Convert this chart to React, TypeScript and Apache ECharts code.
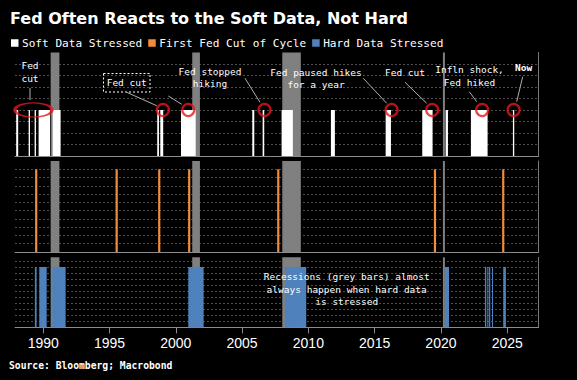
import React, { useEffect, useRef } from "react";
import * as echarts from "echarts";

// ---- data ----
const X_MIN = 1987.87;
const X_MAX = 2027.36;
const yearTicks = [1990, 1995, 2000, 2005, 2010, 2015, 2020, 2025];

const recessions: [number, number][] = [
  [1990.56, 1991.22],
  [2001.24, 2001.82],
  [2008.03, 2009.43],
  [2020.15, 2020.3],
];

const softStressed: [number, number][] = [
  [1987.96, 1988.11],
  [1988.9, 1989.0],
  [1989.35, 1989.45],
  [1989.65, 1990.51],
  [1990.71, 1991.31],
  [1998.6, 1998.73],
  [1998.83, 1999.05],
  [2000.39, 2001.5],
  [2005.77, 2005.92],
  [2006.55, 2006.67],
  [2007.98, 2008.83],
  [2011.7, 2012.0],
  [2015.83, 2016.23],
  [2018.59, 2019.37],
  [2020.35, 2020.53],
  [2022.26, 2023.52],
  [2025.43, 2025.53],
];

const firstFedCuts: number[] = [1989.47, 1995.54, 1998.75, 2001.01, 2007.73, 2019.55, 2024.7];

const hardStressed: [number, number][] = [
  [1989.37, 1989.5],
  [1989.7, 1990.26],
  [1990.68, 1991.69],
  [2000.94, 2002.1],
  [2008.23, 2009.84],
  [2020.3, 2020.61],
  [2023.32, 2023.42],
  [2023.5, 2023.58],
  [2023.63, 2023.72],
  [2023.85, 2023.93],
  [2024.7, 2024.9],
];

const softLevel = 4;
const cutLevel = 10;
const hardLevel = 10;
const panelMax = [9, 11, 11.6];

const circledDates: number[] = [1999.03, 2000.94, 2006.69, 2016.28, 2019.34, 2023.11, 2025.48];
const ellipseDates: number[] = [1989.26];

// ---- styles ----
const MONO = "'DejaVu Sans Mono', 'Liberation Mono', monospace";
const SANS = "'Liberation Sans', Arial, sans-serif";
const GREY = "#808080";
const WHITE = "#ffffff";
const ORANGE = "#f08c3c";
const BLUE = "#4f81bd";
const RED = "#e8161b";
const LEADER = "#b0b0b0";

const rangeRender = (color: string) => (params: any, api: any) => {
  const p0 = api.coord([api.value(0), api.value(2)]);
  const p1 = api.coord([api.value(1), 0]);
  return {
    type: "rect",
    shape: { x: p0[0], y: p0[1], width: Math.max(p1[0] - p0[0], 1), height: p1[1] - p0[1] },
    style: { fill: color },
  };
};

const lineRender = (color: string) => (params: any, api: any) => {
  const p0 = api.coord([api.value(0), api.value(1)]);
  const p1 = api.coord([api.value(0), 0]);
  return {
    type: "rect",
    shape: { x: p0[0] - 1.1, y: p0[1], width: 2.2, height: p1[1] - p0[1] },
    style: { fill: color },
  };
};

export default function App() {
  const ref = useRef<HTMLDivElement>(null);
  useEffect(() => {
    if (!ref.current) return;
    const chart = echarts.init(ref.current, null, { renderer: "svg" });

    const grids = [
      { left: 15, right: 38.5, top: 52.5, height: 103.5 },
      { left: 15, right: 38.5, top: 161, height: 91 },
      { left: 15, right: 38.5, top: 257.3, height: 70 },
    ];

    const xAxes = grids.map((g, i) => ({
      type: "value",
      gridIndex: i,
      min: X_MIN,
      max: X_MAX,
      splitLine: { show: false },
      axisLine: { show: true, lineStyle: { color: "#8c8c8c", width: 1 } },
      axisTick: {
        show: i === 2,
        customValues: yearTicks,
        length: 6,
        lineStyle: { color: "#8c8c8c" },
      },
      axisLabel: {
        show: i === 2,
        customValues: yearTicks,
        color: WHITE,
        fontSize: 14,
        fontFamily: SANS,
        margin: 9,
        formatter: (v: number) => String(Math.round(v)),
      },
    }));

    const yAxes = grids.map((g, i) => ({
      type: "value",
      gridIndex: i,
      position: "right",
      min: 0,
      max: panelMax[i],
      interval: 1,
      axisLine: { show: true, lineStyle: { color: "#7a7a7a" } },
      axisTick: { show: false },
      axisLabel: { show: false },
      splitLine: {
        show: true,
        showMaxLine: false,
        showMinLine: false,
        lineStyle: { color: "#4e4e4e", type: [2, 2], width: 1 },
      },
    }));

    const greySeries = [0, 1, 2].map((i) => ({
      type: "custom",
      name: "Recession",
      xAxisIndex: i,
      yAxisIndex: i,
      z: 1,
      encode: { x: [0, 1], y: 2 },
      renderItem: rangeRender(GREY),
      data: recessions.map(([a, b]) => [a, b, panelMax[i]]),
    }));

    const annText = (text: string, x: number, y: number, extra: any = {}) => ({
      type: "text",
      x,
      y,
      z: 50,
      style: {
        text,
        fill: WHITE,
        font: `9.5px ${MONO}`,
        align: "center",
        verticalAlign: "middle",
        lineHeight: 12.2,
        ...extra,
      },
    });
    const leader = (x1: number, y1: number, x2: number, y2: number) => ({
      type: "line",
      z: 50,
      shape: { x1, y1, x2, y2 },
      style: { stroke: LEADER, lineWidth: 1 },
    });

    chart.setOption({
      animation: false,
      backgroundColor: "#000000",
      title: {
        text: "Fed Often Reacts to the Soft Data, Not Hard",
        left: 5,
        top: 5,
        textStyle: { color: WHITE, fontSize: 16, fontWeight: "bold", fontFamily: "'DejaVu Sans', sans-serif" },
      },
      legend: {
        data: ["Soft Data Stressed", "First Fed Cut of Cycle", "Hard Data Stressed"],
        left: 6,
        top: 32.5,
        icon: "rect",
        itemWidth: 7.5,
        itemHeight: 7.5,
        itemGap: 6,
        selectedMode: false,
        textStyle: { color: WHITE, fontSize: 11.1, fontFamily: MONO, padding: [0, 0, 0, -1.5] },
      },
      grid: grids,
      xAxis: xAxes,
      yAxis: yAxes,
      series: [
        ...greySeries,
        {
          type: "custom",
          name: "Soft Data Stressed",
          xAxisIndex: 0,
          yAxisIndex: 0,
          z: 3,
          itemStyle: { color: WHITE },
          encode: { x: [0, 1], y: 2 },
          renderItem: rangeRender(WHITE),
          data: softStressed.map(([a, b]) => [a, b, softLevel]),
        },
        {
          type: "custom",
          name: "First Fed Cut of Cycle",
          xAxisIndex: 1,
          yAxisIndex: 1,
          z: 3,
          itemStyle: { color: ORANGE },
          encode: { x: 0, y: 1 },
          renderItem: lineRender(ORANGE),
          data: firstFedCuts.map((d) => [d, cutLevel]),
        },
        {
          type: "custom",
          name: "Hard Data Stressed",
          xAxisIndex: 2,
          yAxisIndex: 2,
          z: 3,
          itemStyle: { color: BLUE },
          encode: { x: [0, 1], y: 2 },
          renderItem: rangeRender(BLUE),
          data: hardStressed.map(([a, b]) => [a, b, hardLevel]),
        },
        {
          type: "scatter",
          name: "circles",
          xAxisIndex: 0,
          yAxisIndex: 0,
          z: 10,
          clip: false,
          symbol: "circle",
          symbolSize: 12,
          itemStyle: { color: "rgba(0,0,0,0)", borderColor: RED, borderWidth: 2.2 },
          data: circledDates.map((d) => [d, softLevel]),
        },
        {
          type: "scatter",
          name: "ellipse",
          xAxisIndex: 0,
          yAxisIndex: 0,
          z: 10,
          clip: false,
          symbol: "circle",
          symbolSize: [37, 14],
          itemStyle: { color: "rgba(0,0,0,0)", borderColor: RED, borderWidth: 2.2 },
          data: ellipseDates.map((d) => [d, softLevel]),
        },
      ],
      graphic: [
        annText("Fed\ncut", 30, 72),
        leader(30, 88, 30, 100),
        {
          type: "rect",
          z: 50,
          shape: { x: 103.5, y: 73.5, width: 46.5, height: 18.5 },
          style: { fill: "none", stroke: WHITE, lineWidth: 1, lineDash: [2, 2] },
        },
        annText("Fed cut", 126.7, 82.5),
        leader(126.7, 92.3, 156.7, 105.7),
        leader(168.3, 96, 181.7, 104.3),
        annText("Fed stopped\nhiking", 210, 77.5),
        leader(245, 78.3, 260, 102.3),
        annText("Fed paused hikes\nfor a year", 316, 78.3),
        leader(363.3, 78.3, 386.7, 103.3),
        annText("Fed cut", 405, 72.3),
        leader(405, 82.3, 426.7, 103.3),
        annText("Infln shock,\nFed hiked", 469.5, 76),
        leader(469.3, 91.7, 476.7, 101.7),
        annText("Now", 523.7, 67.3, { font: `bold 9.5px ${MONO}` }),
        leader(522.7, 76.7, 516.7, 101.7),
        annText("Recessions (grey bars) almost\nalways happen when hard data\nis stressed", 346.7, 289),
        {
          type: "text",
          x: 9,
          y: 365,
          z: 50,
          style: {
            text: "Source: Bloomberg; Macrobond",
            fill: WHITE,
            font: `bold 9.7px ${MONO}`,
            verticalAlign: "middle",
          },
        },
      ],
    });
    return () => chart.dispose();
  }, []);
  return (
    <div
      ref={ref}
      style={{ position: "fixed", left: 0, top: 0, width: 577, height: 380, background: "#000" }}
    />
  );
}
